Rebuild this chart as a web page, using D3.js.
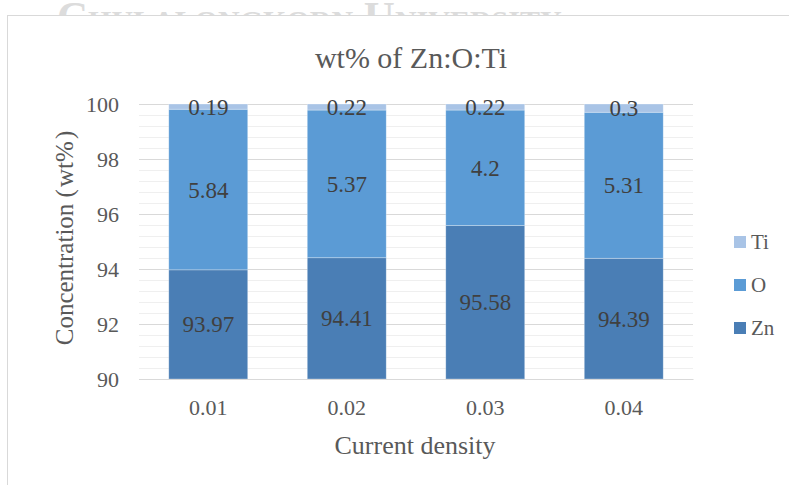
<!DOCTYPE html>
<html>
<head>
<meta charset="utf-8">
<script src="https://cdn.jsdelivr.net/npm/d3@7"></script>
<style>
  body { margin: 0; background: #fff; }
</style>
</head>
<body>
<div id="chart"></div>
<script>
// values
var categories = ["0.01", "0.02", "0.03", "0.04"];
var zn = [93.97, 94.41, 95.58, 94.39];
var oxy = [5.84, 5.37, 4.2, 5.31];
var ti = [0.19, 0.22, 0.22, 0.3];
var seriesNames = ["Zn", "O", "Ti"];
var yTicks = [90, 92, 94, 96, 98, 100];

const svgDimentions = { width: 789, height: 485 };
const margins = { top: 104, bottom: 106, left: 139, right: 96 };
const serif = "'Liberation Serif', 'Times New Roman', Times, serif";

var colors = { "Zn": "#4a7eb5", "O": "#5b9bd5", "Ti": "#a9c4e6" };

var table = categories.map((c, i) => ({ cat: c, Zn: zn[i], O: oxy[i], Ti: ti[i] }));

var svg = d3.select("#chart").append("svg")
    .attr("width", svgDimentions.width)
    .attr("height", svgDimentions.height)
    .style("font-family", serif);

// faint watermark behind the chart box
svg.append("text")
    .attr("x", 57)
    .attr("y", 31)
    .style("font-family", serif)
    .style("font-size", "43px")
    .style("font-weight", "bold")
    .style("font-variant", "small-caps")
    .attr("fill", "#dcdcdc")
    .text("Chulalongkorn University");

// chart box
svg.append("rect")
    .attr("x", 7.5)
    .attr("y", 15.5)
    .attr("width", 800)
    .attr("height", 500)
    .attr("fill", "#fff")
    .attr("stroke", "#d9d9d9")
    .attr("stroke-width", 1);

var scaleX = d3.scaleBand()
    .domain(categories)
    .range([margins.left, svgDimentions.width - margins.right])
    .paddingInner(0.43)
    .paddingOuter(0.215);

var scaleY = d3.scaleLinear()
    .domain([90, 100])
    .range([svgDimentions.height - margins.bottom, margins.top]);

var yMin = scaleY.domain()[0];

// minor grid
var minor = d3.range(90, 100.001, 0.4).filter(v => Math.abs(v - Math.round(v / 2) * 2) > 0.01);
svg.append("g").selectAll("line").data(minor).enter().append("line")
    .attr("x1", margins.left).attr("x2", svgDimentions.width - margins.right)
    .attr("y1", d => Math.round(scaleY(d)) + 0.5).attr("y2", d => Math.round(scaleY(d)) + 0.5)
    .attr("stroke", "#efefef").attr("stroke-width", 1);

// major grid + labels
var axisY = d3.axisLeft(scaleY).tickValues(yTicks).tickSize(0).tickPadding(20);
var gy = svg.append("g")
    .attr("transform", "translate(" + margins.left + ",0)")
    .call(axisY)
    .attr("font-family", serif);
gy.select(".domain").remove();
gy.selectAll("text").style("font-size", "22px").attr("fill", "#595959");
svg.append("g").selectAll("line").data(yTicks).enter().append("line")
    .attr("x1", margins.left).attr("x2", svgDimentions.width - margins.right)
    .attr("y1", d => Math.round(scaleY(d)) + 0.5).attr("y2", d => Math.round(scaleY(d)) + 0.5)
    .attr("stroke", "#d9d9d9").attr("stroke-width", 1);

var stack = d3.stack().keys(seriesNames)(table);

var layers = svg.append("g").selectAll("g").data(stack).enter().append("g")
    .attr("fill", d => colors[d.key]);

layers.selectAll("rect").data(d => d).enter().append("rect")
    .attr("x", d => scaleX(d.data.cat))
    .attr("y", d => scaleY(d[1]))
    .attr("width", scaleX.bandwidth())
    .attr("height", d => scaleY(Math.max(d[0], yMin)) - scaleY(d[1]))
    .attr("stroke", "#ffffff")
    .attr("stroke-opacity", 0.4)
    .attr("stroke-width", 0.75);

// data labels
stack.forEach(function (layer) {
    svg.append("g").selectAll("text").data(layer).enter().append("text")
        .attr("x", d => scaleX(d.data.cat) + scaleX.bandwidth() / 2)
        .attr("y", d => scaleY((Math.max(d[0], yMin) + d[1]) / 2))
        .attr("dy", "0.35em")
        .attr("text-anchor", "middle")
        .style("font-family", serif)
        .style("font-size", "23px")
        .attr("fill", "#404040")
        .text(d => d.data[layer.key]);
});

// x axis
var axisX = d3.axisBottom(scaleX).tickSize(0).tickPadding(20);
var gx = svg.append("g")
    .attr("transform", "translate(0," + (svgDimentions.height - margins.bottom) + ")")
    .call(axisX)
    .attr("font-family", serif);
gx.select(".domain").attr("stroke", "#d9d9d9");
gx.selectAll("text").style("font-size", "22px").attr("fill", "#595959");

// titles
svg.append("text")
    .attr("x", 411).attr("y", 68)
    .attr("text-anchor", "middle")
    .style("font-family", serif)
    .style("font-size", "30px")
    .attr("fill", "#595959")
    .text("wt% of Zn:O:Ti");

svg.append("text")
    .attr("x", 415).attr("y", 454)
    .attr("text-anchor", "middle")
    .style("font-family", serif)
    .style("font-size", "26px")
    .attr("fill", "#595959")
    .text("Current density");

svg.append("text")
    .attr("transform", "translate(73,238) rotate(-90)")
    .attr("text-anchor", "middle")
    .style("font-family", serif)
    .style("font-size", "25px")
    .attr("fill", "#595959")
    .text("Concentration\u00a0(\u200awt%\u200a)");

// legend
var legendItems = ["Ti", "O", "Zn"];
var legend = svg.append("g").selectAll("g").data(legendItems).enter().append("g")
    .attr("transform", (d, i) => "translate(734," + (242 + i * 43) + ")");
legend.append("rect")
    .attr("x", 0).attr("y", -6).attr("width", 12).attr("height", 12)
    .attr("fill", d => colors[d]);
legend.append("text")
    .attr("x", 17).attr("y", 0).attr("dy", "0.35em")
    .style("font-family", serif)
    .style("font-size", "21px")
    .attr("fill", "#595959")
    .text(d => d);
</script>
</body>
</html>
